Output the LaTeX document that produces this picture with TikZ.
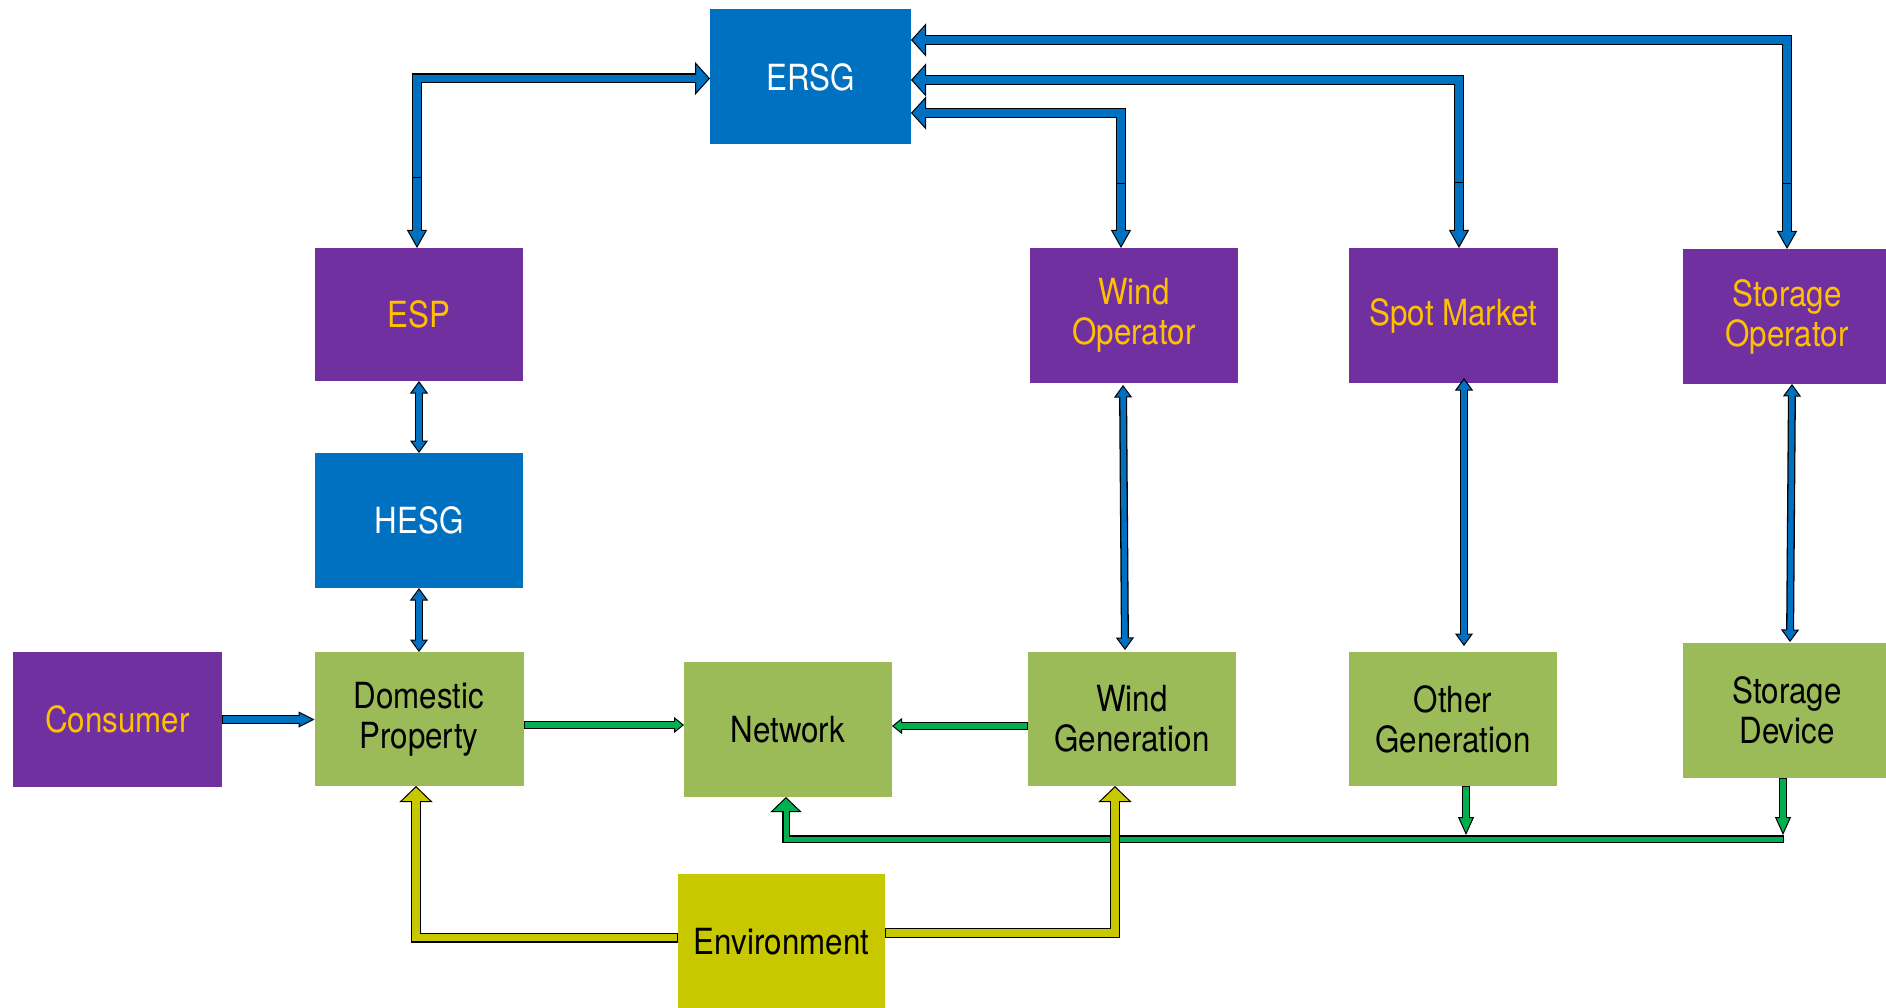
\documentclass[tikz,border=0pt]{standalone}
\usepackage{fontspec}
\setmainfont{TeX Gyre Heros}[FakeStretch=0.87]
\usetikzlibrary{arrows.meta}

\definecolor{boxblue}{HTML}{0070C0}
\definecolor{boxpurple}{HTML}{7030A0}
\definecolor{labelorange}{HTML}{FFC000}
\definecolor{boxgreen}{HTML}{9BBB59}
\definecolor{envyellow}{RGB}{200,200,0}
\definecolor{arrgreen}{HTML}{00B050}

\tikzset{
  box/.style={rectangle, inner sep=0pt, outer sep=0pt, align=center,
    font=\fontsize{36}{40}\selectfont},
  bluebox/.style={box, fill=boxblue, text=white},
  actor/.style={box, fill=boxpurple, text=labelorange},
  asset/.style={box, fill=boxgreen, text=black},
  envbox/.style={box, fill=envyellow, text=black},
  % block arrow: black outline, coloured core
  % #1 core colour, #2 outer width, #3 core width, #4 start trim, #5 end trim
  pipe/.style n args={5}{draw=black, line width=#2, line cap=butt, line join=miter,
    postaction={draw=#1, line width=#3, -, shorten <=#4, shorten >=#5}},
  ersgB/.tip={Triangle[length=15pt,width=33pt,line width=1pt,fill=boxblue]},
  dropB/.tip={Triangle[length=18pt,width=20pt,line width=1pt,fill=boxblue]},
  linkB/.tip={Triangle[length=12.5pt,width=18pt,line width=1pt,fill=boxblue]},
  feedB/.tip={Triangle[length=16pt,width=16pt,line width=1pt,fill=boxblue]},
  flowG/.tip={Triangle[length=10pt,width=16pt,line width=1pt,fill=arrgreen]},
  dropG/.tip={Triangle[length=18pt,width=16pt,line width=1pt,fill=arrgreen]},
  riseG/.tip={Triangle[length=15pt,width=31pt,line width=1pt,fill=arrgreen]},
  riseY/.tip={Triangle[length=16pt,width=33pt,line width=1pt,fill=envyellow]},
}

\begin{document}
\begin{tikzpicture}[x=1pt, y=-1pt]
\useasboundingbox (0,0) rectangle (1886,1008);
\clip (0,0) rectangle (1886,1008);

% ---- boxes ----
\node[bluebox, minimum width=201, minimum height=135] (ersg) at (810.5,77) {ERSG};
\node[actor, minimum width=208, minimum height=133] (esp) at (419,314.5) {ESP};
\node[bluebox, minimum width=208, minimum height=135] (hesg) at (419,520.5) {HESG};
\node[actor, minimum width=209, minimum height=135] (consumer) at (117.5,719.5) {Consumer};
\node[asset, minimum width=209, minimum height=134] (domestic) at (419,719) {Domestic\\Property};
\node[asset, minimum width=208, minimum height=135] (network) at (788,729.5) {Network};
\node[actor, minimum width=208, minimum height=135] (windop) at (1134,315.5) {Wind\\Operator};
\node[actor, minimum width=209, minimum height=135] (spot) at (1453.5,315.5) {Spot Market};
\node[actor, minimum width=208, minimum height=135] (storop) at (1787,316.5) {Storage\\Operator};
\node[asset, minimum width=208, minimum height=134] (windgen) at (1132,719) {Wind\\Generation};
\node[asset, minimum width=208, minimum height=134] (othergen) at (1453,719) {Other\\Generation};
\node[asset, minimum width=208, minimum height=135] (stordev) at (1787,710.5) {Storage\\Device};
\node[envbox, minimum width=207, minimum height=135] (env) at (781.5,941.5) {Environment};

% ---- ERSG links (elbow part plus short drop to each box) ----
\coordinate (j1) at (417,177);  \coordinate (r1) at (0,78.5);
\coordinate (j2) at (1121,183); \coordinate (r2) at (0,113);
\coordinate (j3) at (1459,182); \coordinate (r3) at (0,80);
\coordinate (j4) at (1787,183); \coordinate (r4) at (0,40);

\draw[pipe={boxblue}{10pt}{7.4pt}{0pt}{13pt}, -ersgB] (j1) |- (ersg.west |- r1);
\draw[pipe={boxblue}{10pt}{7.4pt}{1.3pt}{16pt}, -dropB] (j1) -- (esp.north -| j1);

\draw[pipe={boxblue}{10pt}{7.4pt}{0pt}{13pt}, -ersgB] (j4) |- (ersg.east |- r4);
\draw[pipe={boxblue}{10pt}{7.4pt}{1.3pt}{16pt}, -dropB] (j4) -- (storop.north -| j4);

\draw[pipe={boxblue}{10pt}{7.4pt}{0pt}{13pt}, -ersgB] (j3) |- (ersg.east |- r3);
\draw[pipe={boxblue}{10pt}{7.4pt}{1.3pt}{16pt}, -dropB] (j3) -- (spot.north -| j3);

\draw[pipe={boxblue}{10pt}{7.4pt}{0pt}{13pt}, -ersgB] (j2) |- (ersg.east |- r2);
\draw[pipe={boxblue}{10pt}{7.4pt}{1.3pt}{16pt}, -dropB] (j2) -- (windop.north -| j2);

% ---- two-way control links ----
\draw[pipe={boxblue}{8pt}{5.4pt}{10.5pt}{10.5pt}, linkB-linkB] (esp.south) -- (hesg.north);
\draw[pipe={boxblue}{8pt}{5.4pt}{10.5pt}{10.5pt}, linkB-linkB] (hesg.south) -- (domestic.north);
\draw[pipe={boxblue}{8pt}{5.4pt}{10.5pt}{10.5pt}, linkB-linkB]
  ([xshift=-11pt,yshift=-2pt]windop.south) -- ([xshift=-7pt,yshift=2pt]windgen.north);
\draw[pipe={boxblue}{8pt}{5.4pt}{10.5pt}{10.5pt}, linkB-linkB]
  ([xshift=10.5pt,yshift=5pt]spot.south) -- ([xshift=11pt,yshift=6pt]othergen.north);
\draw[pipe={boxblue}{8pt}{5.4pt}{10.5pt}{10.5pt}, linkB-linkB]
  ([xshift=5pt]storop.south) -- ([xshift=3pt,yshift=1pt]stordev.north);

% ---- consumer ----
\draw[pipe={boxblue}{9pt}{6.4pt}{1.3pt}{14pt}, -feedB] (consumer.east) -- (consumer.east -| domestic.west);

% ---- energy flows ----
\coordinate (g1) at (0,725);
\coordinate (g2) at (0,726);
\draw[pipe={arrgreen}{8pt}{5.4pt}{1.3pt}{8pt}, -flowG] (domestic.east |- g1) -- (network.west |- g1);
\draw[pipe={arrgreen}{8pt}{5.4pt}{1.3pt}{8pt}, -flowG] (windgen.west |- g2) -- (network.east |- g2);

\coordinate (busend) at (1784,839);
\coordinate (netin) at (786,0);
\draw[pipe={arrgreen}{7.5pt}{5pt}{1.3pt}{13pt}, -riseG] (busend) -| (network.south -| netin);

\coordinate (sd) at (1783,835);
\coordinate (og) at (1466,835);
\draw[pipe={arrgreen}{8pt}{5.4pt}{1.3pt}{16pt}, -dropG] (stordev.south -| sd) -- (sd);
\draw[pipe={arrgreen}{8pt}{5.4pt}{1.3pt}{16pt}, -dropG] (othergen.south -| og) -- (og);

% ---- environment influences ----
\coordinate (y1) at (416,937.5);
\coordinate (y2) at (1115,933);
\draw[pipe={envyellow}{10pt}{7.4pt}{1.3pt}{14pt}, -riseY] (env.west |- y1) -| (domestic.south -| y1);
\draw[pipe={envyellow}{10pt}{7.4pt}{1.3pt}{14pt}, -riseY] (env.east |- y2) -| (windgen.south -| y2);

\end{tikzpicture}
\end{document}
